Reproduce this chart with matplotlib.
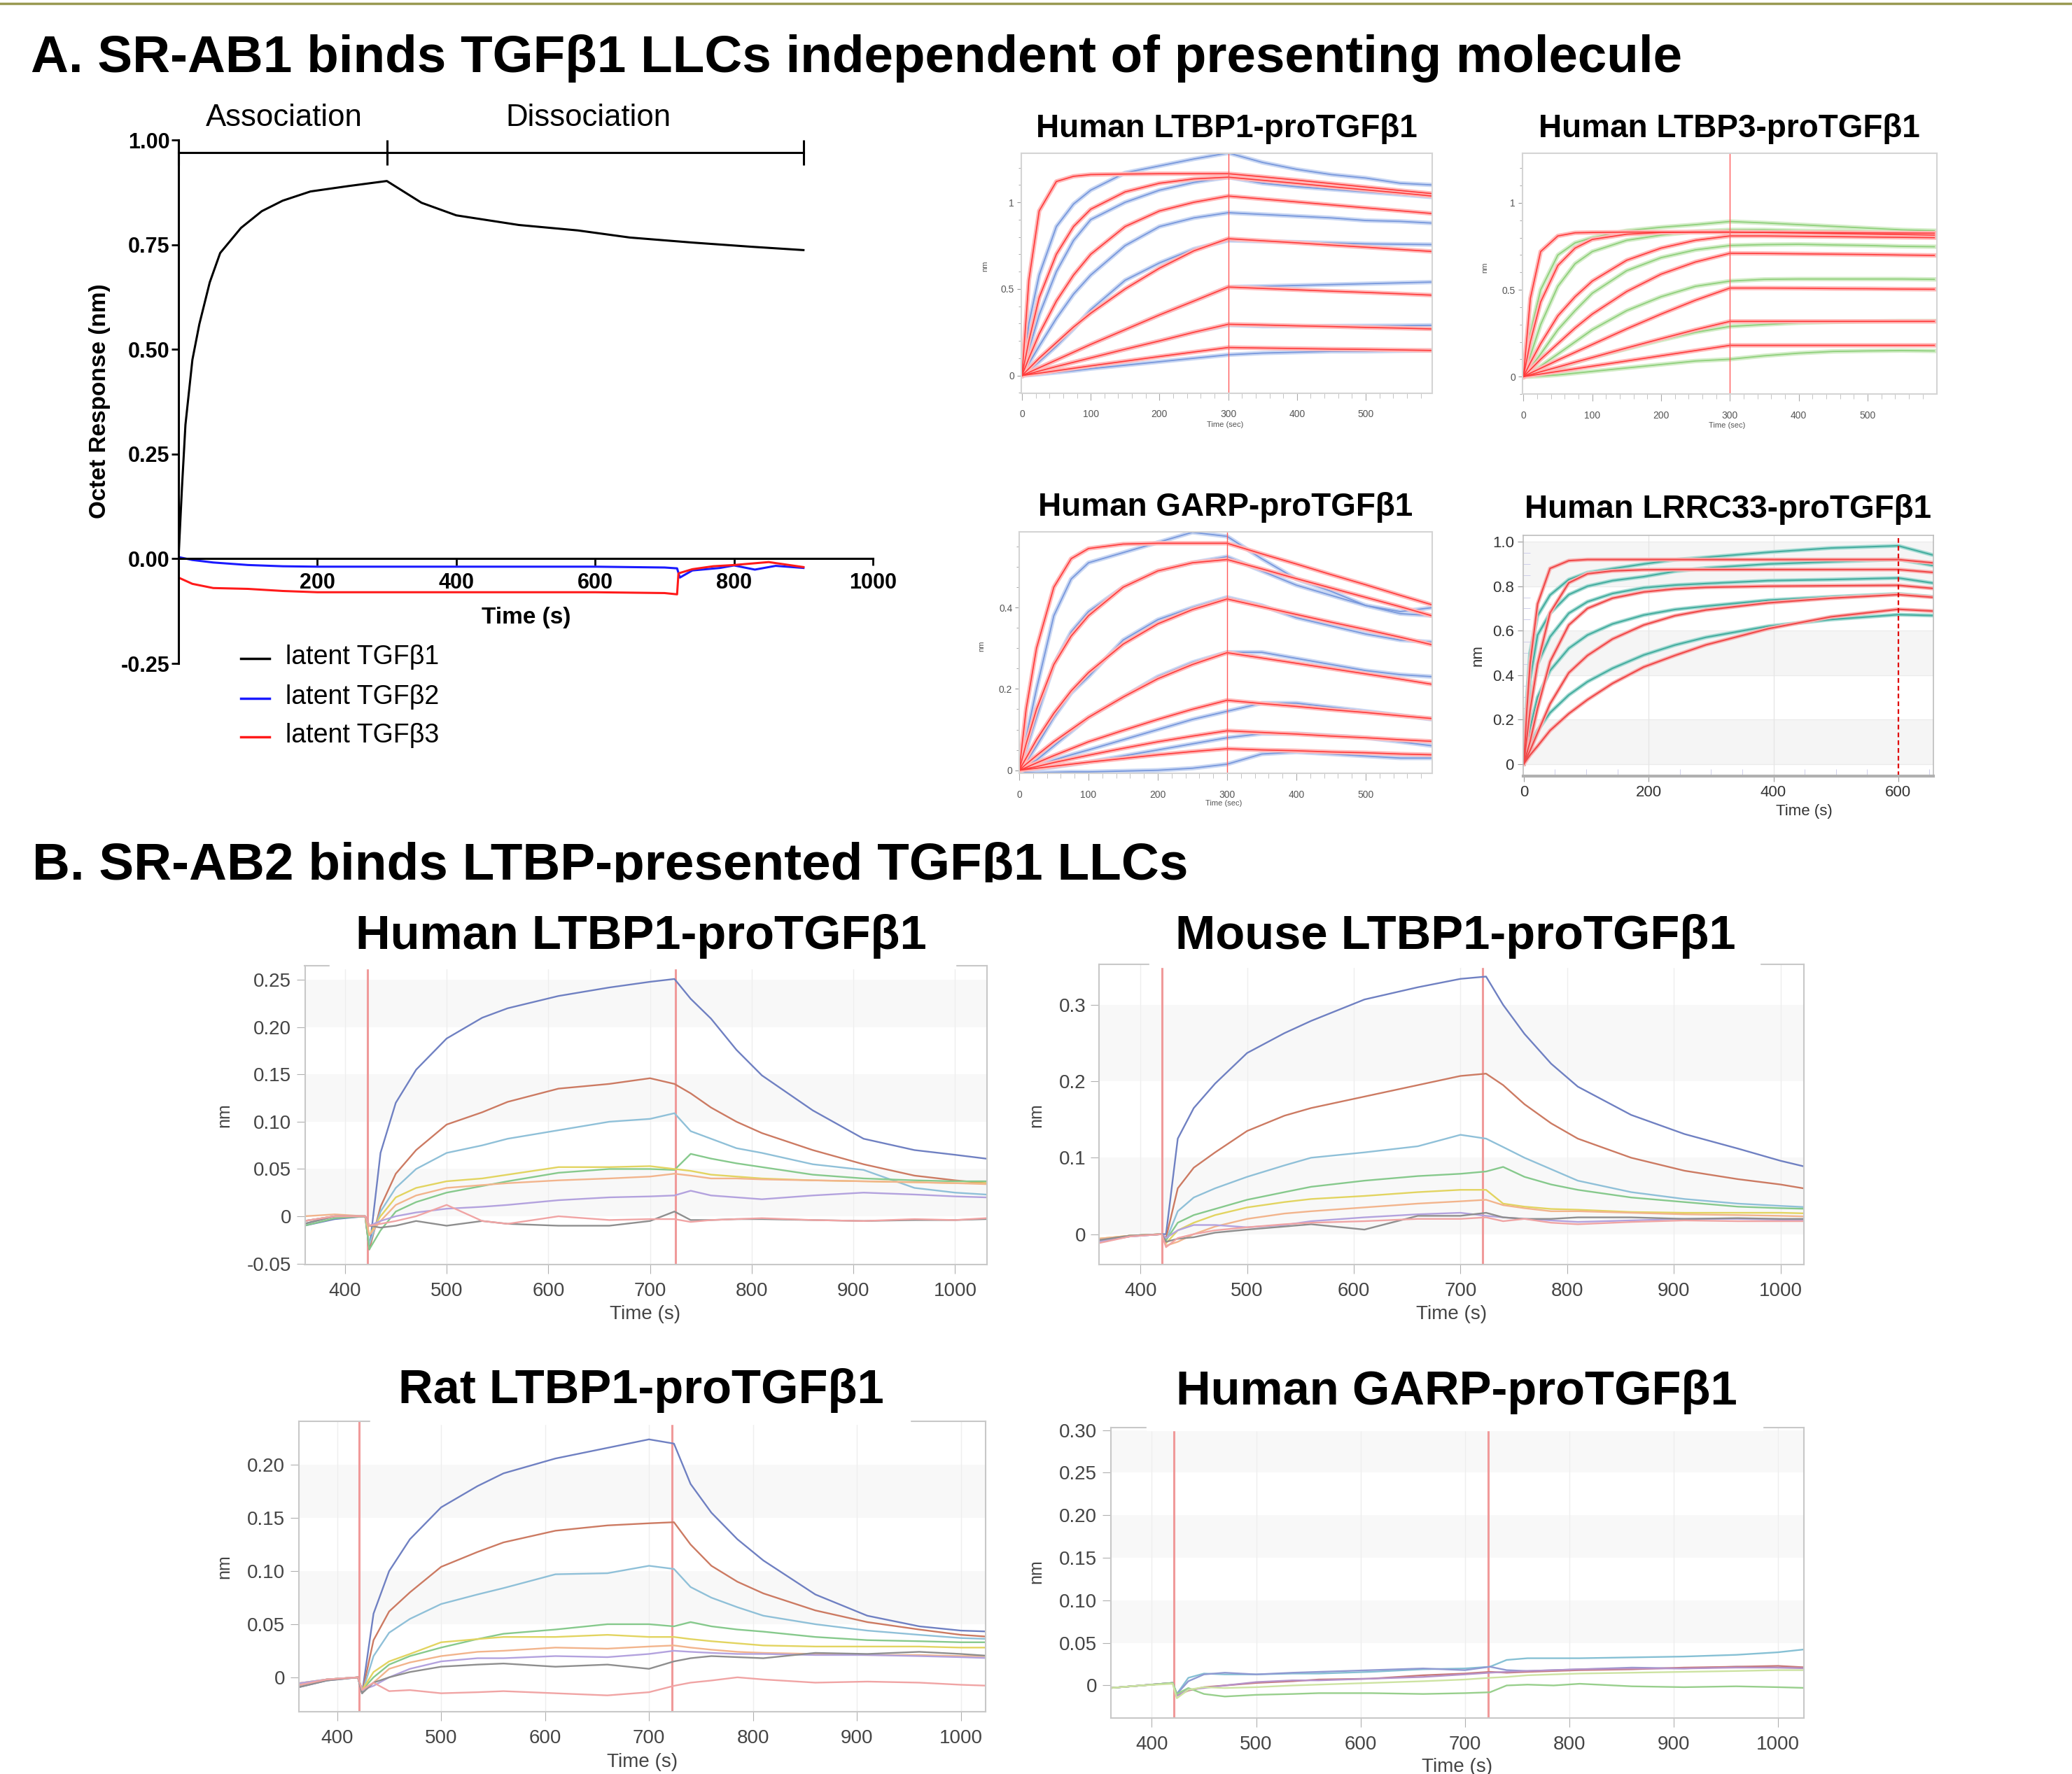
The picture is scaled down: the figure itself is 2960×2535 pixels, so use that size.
import matplotlib
matplotlib.use('Agg')
import matplotlib.pyplot as plt
from matplotlib.lines import Line2D
from matplotlib.patches import Rectangle
import numpy as np

plt.rcParams['font.family'] = ['Liberation Sans', 'DejaVu Sans']

# ---------------- DATA ----------------
# Panel A main (SR-AB1 vs latent TGFb1/2/3)
A_T_B1 = [0, 5, 10, 20, 30, 45, 60, 90, 120, 150, 190, 245, 300, 350, 400, 490, 575, 650, 740, 825, 900]
A_B1 = [0, 0.17, 0.32, 0.475, 0.56, 0.66, 0.73, 0.79, 0.83, 0.855, 0.877, 0.89, 0.902, 0.85, 0.82, 0.797,
        0.784, 0.767, 0.755, 0.745, 0.737]
A_T_B2 = [0, 20, 50, 100, 150, 200, 400, 600, 700, 718, 722, 740, 780, 800, 830, 860, 900]
A_B2 = [0.004, -0.003, -0.009, -0.015, -0.018, -0.019, -0.019, -0.019, -0.021, -0.023, -0.045, -0.028,
        -0.022, -0.016, -0.026, -0.017, -0.022]
A_T_B3 = [0, 20, 50, 100, 150, 200, 400, 600, 700, 718, 720, 740, 770, 800, 850, 900]
A_B3 = [-0.045, -0.06, -0.07, -0.072, -0.077, -0.08, -0.08, -0.08, -0.082, -0.085, -0.035, -0.025,
        -0.018, -0.015, -0.008, -0.02]
A_LEGEND = ['latent TGFβ1', 'latent TGFβ2', 'latent TGFβ3']

# Small panels A (time in s)
T_SMALL = [0, 10, 25, 50, 75, 100, 150, 200, 250, 300, 350, 400, 450, 500, 550, 597]
LTBP1_FIT = [
    [0, 0.55, 0.95, 1.12, 1.15, 1.16, 1.163, 1.165, 1.165, 1.165, 1.147, 1.128, 1.108, 1.088, 1.068, 1.05],
    [0, 0.2, 0.45, 0.7, 0.86, 0.96, 1.06, 1.11, 1.135, 1.145, 1.127, 1.109, 1.09, 1.072, 1.054, 1.036],
    [0, 0.1, 0.24, 0.43, 0.58, 0.7, 0.86, 0.95, 1.0, 1.036, 1.019, 1.002, 0.985, 0.968, 0.951, 0.935],
    [0, 0.04, 0.1, 0.19, 0.28, 0.36, 0.5, 0.62, 0.72, 0.79, 0.778, 0.766, 0.753, 0.741, 0.728, 0.716],
    [0, 0.018, 0.045, 0.09, 0.135, 0.18, 0.265, 0.35, 0.43, 0.511, 0.503, 0.495, 0.487, 0.48, 0.472, 0.464],
    [0, 0.01, 0.026, 0.052, 0.077, 0.102, 0.152, 0.2, 0.25, 0.296, 0.292, 0.287, 0.283, 0.278, 0.274, 0.269],
    [0, 0.006, 0.014, 0.028, 0.042, 0.056, 0.083, 0.11, 0.136, 0.162, 0.159, 0.156, 0.153, 0.151, 0.148, 0.145],
]
LTBP1_DATA = [
    [0, 0.3, 0.58, 0.86, 0.99, 1.07, 1.17, 1.21, 1.25, 1.285, 1.23, 1.19, 1.16, 1.14, 1.11, 1.1],
    [0, 0.15, 0.35, 0.6, 0.78, 0.9, 1.0, 1.07, 1.115, 1.145, 1.11, 1.09, 1.075, 1.06, 1.045, 1.03],
    [0, 0.07, 0.17, 0.33, 0.47, 0.58, 0.75, 0.86, 0.91, 0.94, 0.93, 0.92, 0.91, 0.895, 0.89, 0.88],
    [0, 0.03, 0.08, 0.17, 0.27, 0.38, 0.55, 0.65, 0.73, 0.78, 0.775, 0.77, 0.765, 0.76, 0.758, 0.756],
    [0, 0.018, 0.045, 0.09, 0.135, 0.18, 0.265, 0.35, 0.43, 0.511, 0.515, 0.52, 0.525, 0.53, 0.535, 0.54],
    [0, 0.01, 0.026, 0.052, 0.077, 0.102, 0.152, 0.2, 0.25, 0.292, 0.285, 0.285, 0.286, 0.287, 0.288, 0.29],
    [0, 0.003, 0.008, 0.018, 0.028, 0.04, 0.06, 0.08, 0.1, 0.12, 0.13, 0.135, 0.14, 0.14, 0.143, 0.145],
]
LTBP3_FIT = [
    [0, 0.45, 0.72, 0.81, 0.828, 0.83, 0.832, 0.832, 0.832, 0.832, 0.831, 0.83, 0.829, 0.828, 0.827, 0.826],
    [0, 0.2, 0.43, 0.64, 0.74, 0.79, 0.82, 0.83, 0.832, 0.832, 0.83, 0.827, 0.824, 0.821, 0.818, 0.815],
    [0, 0.08, 0.19, 0.35, 0.46, 0.55, 0.67, 0.74, 0.785, 0.81, 0.81, 0.808, 0.806, 0.804, 0.802, 0.8],
    [0, 0.04, 0.1, 0.19, 0.28, 0.36, 0.49, 0.59, 0.66, 0.71, 0.709, 0.707, 0.705, 0.703, 0.7, 0.698],
    [0, 0.02, 0.048, 0.095, 0.14, 0.185, 0.275, 0.36, 0.44, 0.51, 0.51, 0.509, 0.507, 0.506, 0.504, 0.503],
    [0, 0.011, 0.028, 0.055, 0.083, 0.11, 0.165, 0.218, 0.27, 0.318, 0.318, 0.318, 0.318, 0.318, 0.318, 0.318],
    [0, 0.006, 0.015, 0.03, 0.045, 0.06, 0.09, 0.12, 0.15, 0.18, 0.18, 0.18, 0.18, 0.18, 0.18, 0.18],
]
LTBP3_DATA = [
    [0, 0.25, 0.5, 0.7, 0.77, 0.8, 0.84, 0.86, 0.875, 0.893, 0.885, 0.875, 0.865, 0.855, 0.845, 0.84],
    [0, 0.12, 0.3, 0.52, 0.65, 0.72, 0.785, 0.815, 0.835, 0.845, 0.845, 0.84, 0.838, 0.835, 0.832, 0.83],
    [0, 0.05, 0.13, 0.27, 0.38, 0.48, 0.61, 0.685, 0.73, 0.755, 0.76, 0.762, 0.758, 0.755, 0.75, 0.748],
    [0, 0.02, 0.06, 0.13, 0.2, 0.27, 0.38, 0.46, 0.52, 0.55, 0.56, 0.562, 0.562, 0.562, 0.562, 0.56],
    [0, 0.01, 0.025, 0.05, 0.08, 0.11, 0.16, 0.21, 0.255, 0.289, 0.3, 0.31, 0.315, 0.318, 0.32, 0.32],
    [0, 0.0, 0.003, 0.01, 0.02, 0.03, 0.05, 0.07, 0.09, 0.1, 0.12, 0.135, 0.145, 0.148, 0.15, 0.148],
]
GARP_FIT = [
    [0, 0.15, 0.3, 0.45, 0.52, 0.545, 0.556, 0.558, 0.558, 0.558, 0.532, 0.507, 0.481, 0.456, 0.43, 0.406],
    [0, 0.065, 0.15, 0.26, 0.33, 0.38, 0.45, 0.49, 0.51, 0.518, 0.495, 0.471, 0.448, 0.425, 0.402, 0.379],
    [0, 0.03, 0.075, 0.14, 0.195, 0.24, 0.31, 0.36, 0.395, 0.421, 0.402, 0.383, 0.364, 0.346, 0.327, 0.308],
    [0, 0.015, 0.036, 0.07, 0.1, 0.13, 0.18, 0.225, 0.26, 0.289, 0.276, 0.263, 0.25, 0.237, 0.224, 0.211],
    [0, 0.007, 0.018, 0.036, 0.053, 0.07, 0.098, 0.125, 0.15, 0.172, 0.164, 0.157, 0.149, 0.142, 0.134, 0.127],
    [0, 0.004, 0.009, 0.019, 0.028, 0.037, 0.054, 0.07, 0.084, 0.097, 0.093, 0.089, 0.084, 0.08, 0.075, 0.071],
    [0, 0.002, 0.005, 0.01, 0.015, 0.02, 0.029, 0.038, 0.046, 0.053, 0.05, 0.048, 0.045, 0.043, 0.04, 0.038],
]
GARP_DATA = [
    [0, 0.08, 0.2, 0.38, 0.47, 0.51, 0.535, 0.56, 0.585, 0.575, 0.52, 0.47, 0.44, 0.405, 0.39, 0.4],
    [0, 0.05, 0.13, 0.26, 0.34, 0.39, 0.45, 0.49, 0.51, 0.525, 0.49, 0.455, 0.43, 0.405, 0.385, 0.38],
    [0, 0.02, 0.06, 0.13, 0.19, 0.23, 0.32, 0.37, 0.4, 0.425, 0.405, 0.375, 0.355, 0.335, 0.32, 0.315],
    [0, 0.01, 0.025, 0.06, 0.095, 0.13, 0.18, 0.23, 0.265, 0.29, 0.29, 0.275, 0.26, 0.245, 0.235, 0.23],
    [0, 0.003, 0.01, 0.025, 0.038, 0.05, 0.075, 0.1, 0.125, 0.145, 0.165, 0.165, 0.155, 0.145, 0.135, 0.125],
    [0, 0.0, 0.003, 0.008, 0.014, 0.02, 0.035, 0.05, 0.065, 0.08, 0.09, 0.09, 0.085, 0.08, 0.07, 0.06],
    [0, -0.005, -0.006, -0.005, -0.004, -0.004, -0.002, 0.0, 0.005, 0.015, 0.04, 0.045, 0.04, 0.035, 0.03, 0.03],
]
T_LRRC = [0, 5, 10, 22, 42, 72, 102, 142, 192, 242, 292, 392, 492, 600, 656]
LRRC_FIT = [
    [0, 0.25, 0.45, 0.72, 0.88, 0.915, 0.92, 0.92, 0.92, 0.92, 0.92, 0.92, 0.92, 0.92, 0.905],
    [0, 0.12, 0.24, 0.45, 0.68, 0.815, 0.856, 0.869, 0.874, 0.875, 0.875, 0.875, 0.875, 0.875, 0.862],
    [0, 0.05, 0.1, 0.25, 0.46, 0.625, 0.7, 0.746, 0.774, 0.788, 0.795, 0.8, 0.802, 0.804, 0.79],
    [0, 0.03, 0.06, 0.14, 0.27, 0.41, 0.488, 0.562, 0.625, 0.667, 0.693, 0.725, 0.746, 0.762, 0.75],
    [0, 0.02, 0.04, 0.08, 0.15, 0.226, 0.289, 0.362, 0.436, 0.488, 0.536, 0.609, 0.662, 0.696, 0.688],
]
LRRC_DATA = [
    [0, 0.3, 0.5, 0.667, 0.76, 0.83, 0.861, 0.879, 0.9, 0.919, 0.93, 0.953, 0.972, 0.982, 0.94],
    [0, 0.2, 0.38, 0.58, 0.678, 0.762, 0.8, 0.825, 0.843, 0.867, 0.882, 0.9, 0.91, 0.921, 0.893],
    [0, 0.12, 0.25, 0.45, 0.572, 0.678, 0.73, 0.767, 0.793, 0.805, 0.812, 0.825, 0.83, 0.837, 0.814],
    [0, 0.08, 0.16, 0.3, 0.42, 0.52, 0.58, 0.63, 0.67, 0.695, 0.71, 0.737, 0.752, 0.765, 0.752],
    [0, 0.04, 0.08, 0.15, 0.23, 0.31, 0.37, 0.43, 0.49, 0.535, 0.57, 0.62, 0.65, 0.672, 0.668],
]

# Panel B (SR-AB2)
T_B = [360, 390, 420, 424, 435, 450, 470, 500, 535, 560, 610, 660, 700, 724, 740, 760, 785, 810,
       860, 910, 960, 1000, 1030]
HUMAN_LTBP1_B = [
    [-0.01, -0.003, 0.0, -0.035, 0.067, 0.12, 0.155, 0.188, 0.21, 0.22, 0.233, 0.242, 0.248, 0.251, 0.23, 0.209, 0.176, 0.149, 0.112, 0.082, 0.07, 0.065, 0.061],
    [-0.005, 0.0, 0.0, -0.035, 0.01, 0.045, 0.07, 0.097, 0.11, 0.121, 0.135, 0.14, 0.146, 0.14, 0.13, 0.115, 0.1, 0.088, 0.07, 0.055, 0.043, 0.038, 0.035],
    [-0.008, 0.0, 0.0, -0.03, 0.005, 0.03, 0.05, 0.067, 0.075, 0.082, 0.091, 0.1, 0.103, 0.109, 0.09, 0.082, 0.072, 0.067, 0.055, 0.049, 0.03, 0.025, 0.023],
    [-0.01, -0.002, 0.0, -0.035, -0.015, 0.005, 0.015, 0.025, 0.032, 0.037, 0.046, 0.05, 0.05, 0.049, 0.066, 0.061, 0.056, 0.052, 0.044, 0.04, 0.038, 0.037, 0.037],
    [-0.005, 0.0, 0.0, -0.02, 0.0, 0.02, 0.03, 0.037, 0.04, 0.044, 0.052, 0.052, 0.053, 0.05, 0.048, 0.044, 0.042, 0.04, 0.038, 0.037, 0.036, 0.035, 0.035],
    [0.0, 0.002, 0.0, -0.02, -0.005, 0.012, 0.022, 0.03, 0.033, 0.035, 0.038, 0.04, 0.042, 0.045, 0.043, 0.04, 0.04, 0.039, 0.038, 0.037, 0.036, 0.035, 0.034],
    [-0.005, 0.0, 0.0, -0.01, -0.005, 0.0, 0.004, 0.008, 0.01, 0.012, 0.017, 0.02, 0.021, 0.022, 0.027, 0.022, 0.02, 0.018, 0.022, 0.025, 0.023, 0.021, 0.02],
    [-0.008, 0.0, 0.0, -0.01, -0.012, -0.01, -0.005, -0.01, -0.005, -0.008, -0.01, -0.01, -0.005, 0.005, -0.004, -0.004, -0.003, -0.003, -0.004, -0.005, -0.004, -0.004, -0.003],
    [-0.005, 0.0, 0.0, -0.01, -0.008, -0.005, 0.0, 0.012, -0.005, -0.008, 0.0, -0.004, -0.003, -0.003, -0.006, -0.004, -0.003, -0.002, -0.004, -0.005, -0.003, -0.004, -0.002],
]
MOUSE_LTBP1_B = [
    [-0.01, -0.003, 0.0, 0.0, 0.125, 0.165, 0.197, 0.237, 0.263, 0.279, 0.307, 0.323, 0.334, 0.337, 0.3, 0.262, 0.223, 0.193, 0.156, 0.131, 0.112, 0.096, 0.086],
    [-0.008, -0.002, 0.0, -0.005, 0.06, 0.087, 0.107, 0.135, 0.155, 0.165, 0.18, 0.195, 0.207, 0.21, 0.195, 0.17, 0.145, 0.125, 0.1, 0.083, 0.072, 0.065, 0.058],
    [-0.008, -0.002, 0.0, -0.008, 0.03, 0.048, 0.06, 0.075, 0.09, 0.1, 0.107, 0.115, 0.13, 0.125, 0.114, 0.1, 0.085, 0.07, 0.055, 0.046, 0.04, 0.037, 0.035],
    [-0.008, -0.002, 0.0, -0.008, 0.015, 0.025, 0.033, 0.045, 0.055, 0.062, 0.07, 0.076, 0.079, 0.082, 0.088, 0.075, 0.065, 0.058, 0.048, 0.042, 0.036, 0.034, 0.033],
    [-0.006, -0.002, 0.0, -0.012, 0.005, 0.015, 0.025, 0.035, 0.042, 0.046, 0.05, 0.055, 0.058, 0.058, 0.04, 0.036, 0.033, 0.032, 0.029, 0.028, 0.028, 0.028, 0.027],
    [-0.006, -0.002, 0.0, -0.015, -0.01, 0.0, 0.01, 0.02, 0.027, 0.03, 0.035, 0.04, 0.043, 0.045, 0.038, 0.034, 0.03, 0.03, 0.028, 0.026, 0.025, 0.024, 0.023],
    [-0.01, -0.003, 0.0, -0.005, 0.005, 0.012, 0.012, 0.009, 0.012, 0.017, 0.022, 0.026, 0.028, 0.024, 0.022, 0.02, 0.018, 0.016, 0.018, 0.02, 0.02, 0.019, 0.019],
    [-0.008, -0.002, 0.0, -0.01, -0.006, -0.004, 0.002, 0.006, 0.01, 0.013, 0.006, 0.024, 0.024, 0.028, 0.022, 0.02, 0.02, 0.022, 0.022, 0.02, 0.021, 0.02, 0.02],
    [-0.012, -0.003, 0.0, -0.017, -0.005, 0.0, 0.005, 0.009, 0.013, 0.015, 0.017, 0.02, 0.02, 0.022, 0.017, 0.02, 0.015, 0.013, 0.016, 0.018, 0.017, 0.017, 0.017],
]
RAT_LTBP1_B = [
    [-0.01, -0.003, 0.0, -0.015, 0.06, 0.1, 0.13, 0.16, 0.18, 0.192, 0.206, 0.216, 0.224, 0.22, 0.182, 0.155, 0.13, 0.11, 0.078, 0.058, 0.048, 0.044, 0.043],
    [-0.008, -0.002, 0.0, -0.015, 0.035, 0.062, 0.08, 0.104, 0.118, 0.127, 0.138, 0.143, 0.145, 0.146, 0.125, 0.105, 0.09, 0.079, 0.063, 0.052, 0.045, 0.04, 0.038],
    [-0.008, -0.002, 0.0, -0.015, 0.02, 0.042, 0.055, 0.069, 0.078, 0.084, 0.097, 0.098, 0.105, 0.102, 0.085, 0.075, 0.066, 0.058, 0.05, 0.044, 0.04, 0.037, 0.036],
    [-0.008, -0.002, 0.0, -0.012, 0.0, 0.012, 0.02, 0.028, 0.036, 0.041, 0.045, 0.05, 0.05, 0.048, 0.052, 0.048, 0.045, 0.043, 0.038, 0.035, 0.034, 0.033, 0.033],
    [-0.006, -0.002, 0.0, -0.012, 0.005, 0.015, 0.022, 0.033, 0.036, 0.038, 0.038, 0.04, 0.038, 0.038, 0.036, 0.034, 0.032, 0.03, 0.029, 0.029, 0.029, 0.028, 0.028],
    [-0.006, -0.002, 0.0, -0.012, -0.005, 0.008, 0.014, 0.02, 0.024, 0.025, 0.028, 0.027, 0.029, 0.03, 0.028, 0.026, 0.024, 0.023, 0.022, 0.021, 0.021, 0.02, 0.02],
    [-0.006, -0.002, 0.0, -0.012, -0.008, 0.0, 0.008, 0.015, 0.018, 0.018, 0.02, 0.019, 0.022, 0.025, 0.024, 0.023, 0.022, 0.022, 0.021, 0.021, 0.02, 0.019, 0.018],
    [-0.01, -0.003, 0.0, -0.015, -0.005, 0.0, 0.005, 0.01, 0.012, 0.013, 0.01, 0.012, 0.008, 0.015, 0.018, 0.02, 0.019, 0.018, 0.023, 0.022, 0.024, 0.022, 0.02],
    [-0.008, -0.002, 0.0, -0.012, -0.005, -0.013, -0.012, -0.015, -0.014, -0.013, -0.015, -0.017, -0.014, -0.008, -0.005, -0.003, 0.0, -0.002, -0.005, -0.004, -0.005, -0.007, -0.008],
]
GARP_B = [
    [-0.003, 0.0, 0.003, -0.01, 0.009, 0.014, 0.013, 0.013, 0.014, 0.014, 0.016, 0.019, 0.02, 0.022, 0.03, 0.032, 0.032, 0.032, 0.033, 0.034, 0.036, 0.039, 0.043],
    [-0.003, 0.0, 0.003, -0.01, 0.005, 0.013, 0.015, 0.013, 0.015, 0.016, 0.018, 0.02, 0.018, 0.022, 0.018, 0.017, 0.018, 0.019, 0.021, 0.02, 0.022, 0.021, 0.021],
    [-0.003, 0.0, 0.003, -0.012, -0.006, -0.002, 0.0, 0.003, 0.005, 0.007, 0.008, 0.012, 0.014, 0.016, 0.015, 0.016, 0.017, 0.018, 0.019, 0.021, 0.022, 0.023, 0.021],
    [-0.003, 0.0, 0.003, -0.012, -0.005, -0.003, 0.0, 0.004, 0.006, 0.006, 0.008, 0.01, 0.013, 0.015, 0.016, 0.017, 0.018, 0.019, 0.02, 0.02, 0.021, 0.021, 0.02],
    [-0.003, 0.0, 0.003, -0.01, -0.003, -0.01, -0.013, -0.011, -0.01, -0.009, -0.009, -0.01, -0.009, -0.008, 0.0, 0.001, 0.0, 0.002, -0.001, -0.002, -0.001, -0.002, -0.003],
    [-0.003, 0.0, 0.002, -0.015, -0.005, -0.002, -0.003, -0.002, 0.0, 0.001, 0.003, 0.005, 0.007, 0.009, 0.01, 0.012, 0.013, 0.014, 0.015, 0.016, 0.017, 0.018, 0.018],
]
B_COLORS9 = ['#6f80c2', '#cc7a62', '#8fc0d8', '#86c98c', '#e2d460', '#f2b48c', '#b3a2de', '#8e8e8e', '#f0a4a4']
B_COLORS_GARP = ['#86c0d4', '#8f9ad2', '#c87878', '#b692c8', '#98cf8c', '#cde3a2']

# ---------------- FIGURE ----------------
W, H = 2960, 2535
fig = plt.figure(figsize=(W / 100, H / 100), dpi=100)


def rect(x0, y0, x1, y1):
    return [x0 / W, 1 - y1 / H, (x1 - x0) / W, (y1 - y0) / H]


def fx(x):
    return x / W


def fy(y):
    return 1 - y / H


fig.add_artist(Line2D([0, 1], [fy(5), fy(5)], color='#9a9a52', lw=2.5))

fig.text(fx(44), fy(103), 'A. SR-AB1 binds TGFβ1 LLCs independent of presenting molecule',
         fontsize=53.7, fontweight='bold', ha='left', va='baseline')
fig.text(fx(46), fy(1257), 'B. SR-AB2 binds LTBP-presented TGFβ1 LLCs',
         fontsize=53.8, fontweight='bold', ha='left', va='baseline')

# ---- main panel A ----
ax = fig.add_axes(rect(255, 200, 1247, 948))
ax.set_xlim(0, 1000)
ax.set_ylim(-0.25, 1.0)
ax.plot(A_T_B1, A_B1, color='black', lw=2.2)
ax.plot(A_T_B2, A_B2, color='#1a1aff', lw=2.2)
ax.plot(A_T_B3, A_B3, color='#ff1a1a', lw=2.2)
for s in ['top', 'right']:
    ax.spines[s].set_visible(False)
ax.spines['bottom'].set_position(('data', 0))
ax.spines['left'].set_linewidth(2.2)
ax.spines['bottom'].set_linewidth(2.2)
ax.set_xticks([200, 400, 600, 800, 1000])
ax.set_xticklabels(['200', '400', '600', '800', '1000'], fontsize=22, fontweight='bold')
ax.set_yticks([-0.25, 0, 0.25, 0.5, 0.75, 1.0])
ax.set_yticklabels(['-0.25', '0.00', '0.25', '0.50', '0.75', '1.00'], fontsize=22, fontweight='bold')
ax.tick_params(length=7, width=2, pad=2)
ax.tick_params(axis='x', pad=7)
ax.set_facecolor('none')
ax.plot([0, 900], [0.97, 0.97], color='black', lw=2.2, clip_on=False)
ax.vlines([0, 300, 900], 0.94, 1.0, color='black', lw=2.2, clip_on=False)
ax.text(152, 1.053, 'Association', ha='center', va='center', fontsize=31.5)
ax.text(590, 1.053, 'Dissociation', ha='center', va='center', fontsize=31.5)
fig.text(fx(142), fy(573), 'Octet Response (nm)', rotation=90, fontsize=24, fontweight='bold',
         ha='center', va='center')
fig.text(fx(752), fy(883), 'Time (s)', fontsize=24, fontweight='bold', ha='center', va='center')
for lbl, col, yy in zip(A_LEGEND, ['black', '#1a1aff', '#ff1a1a'], [939, 996, 1051]):
    fig.add_artist(Line2D([fx(344), fx(385)], [fy(yy + 2), fy(yy + 2)], color=col, lw=2.5))
    fig.text(fx(408), fy(yy), lbl, fontsize=27, ha='left', va='center')


# ---- small panels A ----
def small_panel(r, xlim, ylim, yticks, ylabels, yminor, fits, datas, dcol, dhalo, title, tb, nm_xy, time_xy):
    a = fig.add_axes(rect(*r))
    a.set_xlim(*xlim)
    a.set_ylim(*ylim)
    for d in datas:
        a.plot(T_SMALL, d, color=dhalo, lw=4.5, solid_joinstyle='round')
    for d in datas:
        a.plot(T_SMALL, d, color=dcol, lw=1.3)
    for f in fits:
        a.plot(T_SMALL, f, color='#ffb8b8', lw=4.5)
    for f in fits:
        a.plot(T_SMALL, f, color='#ff3a3a', lw=1.2)
    a.axvline(300, color='#ff5a5a', lw=1.0)
    for s in a.spines.values():
        s.set_color('#d4d4d4')
        s.set_linewidth(1.5)
    a.set_xticks([0, 100, 200, 300, 400, 500])
    a.set_xticks(np.arange(0, 600, 20), minor=True)
    a.set_yticks(yticks)
    a.set_yticklabels(ylabels)
    a.set_yticks(yminor, minor=True)
    a.tick_params(axis='x', which='major', length=7, color='#aaaaaa', labelsize=10, labelcolor='#555555', pad=10)
    a.tick_params(axis='x', which='minor', length=5, color='#bbbbbb')
    a.tick_params(axis='y', which='major', length=4, color='#999999', labelsize=10, labelcolor='#555555', pad=3)
    a.tick_params(axis='y', which='minor', length=3, color='#999999')
    fig.text(fx((r[0] + r[2]) / 2), fy(tb), title, fontsize=33, fontweight='bold', ha='center', va='baseline')
    fig.text(fx(nm_xy[0]), fy(nm_xy[1]), 'nm', rotation=90, fontsize=8, color='#555555', ha='center', va='center')
    fig.text(fx(time_xy[0]), fy(time_xy[1]), 'Time (sec)', fontsize=8, color='#555555', ha='center', va='center')
    return a


small_panel((1458.6, 219, 2046, 561.7), (-1.4, 596.7), (-0.101, 1.283), [0, 0.5, 1], ['0', '0.5', '1'],
            np.arange(-0.1, 1.3, 0.1), LTBP1_FIT, LTBP1_DATA, '#7898dc', '#c9d7f3',
            'Human LTBP1-proTGFβ1', 196, (1407, 380), (1750, 607))
small_panel((2174.6, 219, 2766.6, 563), (-1.8, 600.4), (-0.1, 1.286), [0, 0.5, 1], ['0', '0.5', '1'],
            np.arange(-0.1, 1.3, 0.1), LTBP3_FIT, LTBP3_DATA, '#8fd07c', '#d4edc9',
            'Human LTBP3-proTGFβ1', 196, (2121, 382), (2467, 608))
small_panel((1456, 760, 2046, 1105), (0, 596), (-0.0074, 0.586), [0, 0.2, 0.4], ['0', '0.2', '0.4'],
            np.arange(0, 0.6, 0.05), GARP_FIT, GARP_DATA, '#7898dc', '#c9d7f3',
            'Human GARP-proTGFβ1', 737, (1402, 923), (1748, 1148))

# ---- LRRC33 panel ----
al = fig.add_axes(rect(2176, 765, 2762, 1109))
al.set_xlim(-1, 656.3)
al.set_ylim(-0.055, 1.029)
for lo in [0.0, 0.4, 0.8]:
    al.axhspan(lo, lo + 0.2, color='#f5f5f5', lw=0, zorder=0)
for yy in [0, 0.2, 0.4, 0.6, 0.8, 1.0]:
    al.axhline(yy, color='#ebebeb', lw=1, zorder=0.5)
for xx in [200, 400]:
    al.axvline(xx, color='#e6e6e6', lw=1, zorder=0.5)
for d in LRRC_DATA:
    al.plot(T_LRRC, d, color='#a8dcd5', lw=4)
for d in LRRC_DATA:
    al.plot(T_LRRC, d, color='#45ad9f', lw=1.5)
for f in LRRC_FIT:
    al.plot(T_LRRC, f, color='#f8b4b4', lw=4)
for f in LRRC_FIT:
    al.plot(T_LRRC, f, color='#f04848', lw=1.5)
al.axvline(600, color='#e00000', lw=1.6, ls=(0, (3, 2)))
for s in al.spines.values():
    s.set_color('#bdbdbd')
    s.set_linewidth(1.2)
al.spines['bottom'].set_linewidth(3)
al.spines['bottom'].set_color('#b0b0b0')
al.set_xticks([0, 200, 400, 600])
al.set_xticks(np.arange(50, 656, 50), minor=True)
al.set_yticks([0, 0.2, 0.4, 0.6, 0.8, 1.0])
al.set_yticklabels(['0', '0.2', '0.4', '0.6', '0.8', '1.0'])
al.set_yticks(np.arange(0.05, 1.0, 0.05), minor=True)
al.tick_params(axis='both', which='major', length=6, color='#999999', labelsize=16, labelcolor='#333333')
al.tick_params(axis='x', which='minor', direction='in', length=7, color='#c8c8e8')
al.tick_params(axis='y', which='minor', direction='in', length=7, color='#c8c8e8')
fig.text(fx(2469), fy(740), 'Human LRRC33-proTGFβ1', fontsize=33, fontweight='bold', ha='center', va='baseline')
fig.text(fx(2111), fy(937), 'nm', rotation=90, fontsize=16, color='#333333', ha='center', va='center')
fig.text(fx(2577), fy(1160), 'Time (s)', fontsize=16, color='#333333', ha='center', va='center')
fig.add_artist(Rectangle((fx(2300), fy(1200)), fx(600) - fx(0), fy(1172) - fy(1200), color='white', zorder=5))


# ---- panel B ----
def b_panel(r, xlim, ylim, yticks, ylabels, curves, colors, vl, title, tb, tcx, nm_xy, time_xy, gap):
    a = fig.add_axes(rect(*r))
    a.set_xlim(*xlim)
    a.set_ylim(*ylim)
    for i in range(len(yticks) - 1):
        if (len(yticks) - 2 - i) % 2 == 0:
            a.axhspan(yticks[i], yticks[i + 1], color='#f8f8f8', lw=0, zorder=0)
    for xx in range(400, 1001, 100):
        a.axvline(xx, color='#eeeeee', lw=1, zorder=0.5)
    for v in vl:
        a.axvline(v, color='#f09a9a', lw=2.2, zorder=1)
    for c, col in zip(curves, colors):
        a.plot(T_B, c, color=col, lw=1.7, zorder=2)
    for s in a.spines.values():
        s.set_color('#c8c8c8')
        s.set_linewidth(1.5)
    a.set_xticks(range(400, 1001, 100))
    a.set_yticks(yticks)
    a.set_yticklabels(ylabels)
    a.tick_params(axis='x', length=9, color='#b0b0b0', labelsize=20, labelcolor='#444444', pad=9)
    a.tick_params(axis='y', length=9, color='#b0b0b0', labelsize=20, labelcolor='#444444', pad=5)
    fig.text(fx(tcx), fy(tb), title, fontsize=49.5, fontweight='bold', ha='center', va='baseline')
    fig.text(fx(nm_xy[0]), fy(nm_xy[1]), 'nm', rotation=90, fontsize=18, color='#444444',
             ha='center', va='center')
    fig.text(fx(time_xy[0]), fy(time_xy[1]), 'Time (s)', fontsize=20, color='#444444',
             ha='center', va='center')
    fig.add_artist(Rectangle((fx(gap[0]), fy(r[1] + 4)), fx(gap[1]) - fx(gap[0]), 8 / H,
                             color='white', zorder=5))
    return a


b_panel((435.5, 1380, 1409.5, 1806.5), (360.6, 1031), (-0.0507, 0.265),
        [-0.05, 0, 0.05, 0.1, 0.15, 0.2, 0.25], ['-0.05', '0', '0.05', '0.10', '0.15', '0.20', '0.25'],
        HUMAN_LTBP1_B, B_COLORS9, [422, 725], 'Human LTBP1-proTGFβ1', 1356, 916, (320, 1594), (922, 1878),
        (471, 1365))
b_panel((1570.5, 1378, 2576.8, 1807.3), (361.5, 1021.8), (-0.04, 0.353),
        [0, 0.1, 0.2, 0.3], ['0', '0.1', '0.2', '0.3'],
        MOUSE_LTBP1_B, B_COLORS9, [420, 721], 'Mouse LTBP1-proTGFβ1', 1356, 2079, (1480, 1594), (2074, 1878),
        (1642, 2514))
b_panel((426.7, 2031, 1408, 2446.2), (363, 1023.8), (-0.0325, 0.241),
        [0, 0.05, 0.1, 0.15, 0.2], ['0', '0.05', '0.10', '0.15', '0.20'],
        RAT_LTBP1_B, B_COLORS9, [421, 722], 'Rat LTBP1-proTGFβ1', 2005, 916, (320, 2239), (918, 2518),
        (529, 1300))
b_panel((1586.7, 2040, 2576.8, 2454.7), (360.6, 1024.7), (-0.038, 0.303),
        [0, 0.05, 0.1, 0.15, 0.2, 0.25, 0.3], ['0', '0.05', '0.10', '0.15', '0.20', '0.25', '0.30'],
        GARP_B, B_COLORS_GARP, [421, 722], 'Human GARP-proTGFβ1', 2007, 2081, (1480, 2246), (2082, 2525),
        (1638, 2518))

# clip bottom of B title like the reference
fig.add_artist(Rectangle((0, fy(1300)), fx(1800), fy(1261) - fy(1300), color='white', zorder=5))

fig.savefig('out.png', dpi=100, facecolor='white')
